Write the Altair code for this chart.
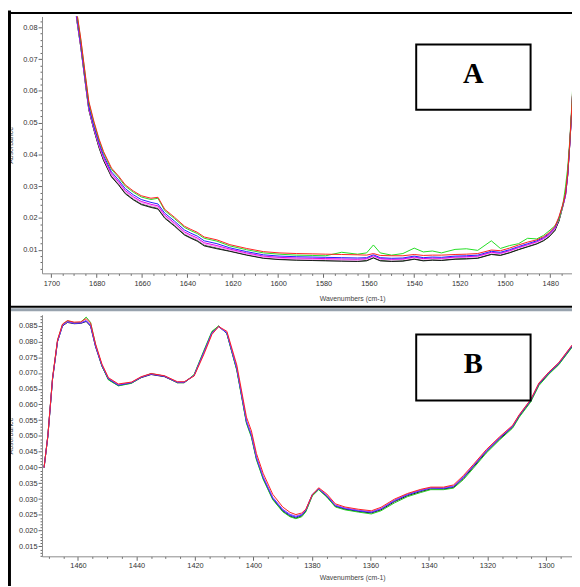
import altair as alt
import pandas as pd

# ---------------- Panel A (1704 - 1470 cm-1) ----------------
A_WN = [1690, 1688.7, 1687, 1684.8, 1683.5, 1681.3, 1679, 1677, 1673.5, 1670.4,
        1667.4, 1663.9, 1660.4, 1656.1, 1653, 1650, 1645.7, 1641.3, 1638.5, 1635.7,
        1632.6, 1627, 1621.3, 1613.9, 1606.5, 1599.6, 1592, 1585, 1579, 1572,
        1565, 1561, 1558, 1555, 1550, 1545, 1540, 1536, 1532, 1528,
        1522, 1517, 1512, 1506, 1502, 1498, 1494, 1490, 1486, 1483,
        1480.6, 1478, 1476.2, 1474.5, 1473.3, 1472.3, 1471.4, 1470.4, 1469.5]

A_RED = [0.0915, 0.0845, 0.0762, 0.0638, 0.0567, 0.0505, 0.0449, 0.0409, 0.0357, 0.0332,
         0.0304, 0.0285, 0.0270, 0.0262, 0.0265, 0.0227, 0.0202, 0.0174, 0.0164, 0.0155,
         0.0140, 0.0131, 0.0116, 0.0104, 0.0094, 0.0090, 0.0088, 0.0087, 0.0086, 0.0085,
         0.0084, 0.0083, 0.0088, 0.0082, 0.0081, 0.0081, 0.0085, 0.0082, 0.0083, 0.0083,
         0.0085, 0.0086, 0.0088, 0.0099, 0.0097, 0.0105, 0.0115, 0.0124, 0.0131, 0.0141,
         0.0153, 0.0173, 0.0203, 0.0243, 0.0278, 0.0343, 0.0440, 0.0563, 0.0703]

A_LIME = [0.0911, 0.0841, 0.0758, 0.0634, 0.0563, 0.0501, 0.0445, 0.0405, 0.0353, 0.0328,
          0.0300, 0.0281, 0.0266, 0.0258, 0.0262, 0.0223, 0.0198, 0.0170, 0.0160, 0.0151,
          0.0136, 0.0127, 0.0112, 0.0100, 0.0090, 0.0086, 0.0083, 0.0082, 0.0081, 0.0092,
          0.0086, 0.0090, 0.0115, 0.0090, 0.0083, 0.0088, 0.0105, 0.0093, 0.0096, 0.0090,
          0.0101, 0.0103, 0.0098, 0.0128, 0.0104, 0.0113, 0.0119, 0.0136, 0.0134, 0.0145,
          0.0159, 0.0175, 0.0195, 0.0240, 0.0298, 0.0360, 0.0445, 0.0570, 0.0710]

A_BLUE = [0.0900, 0.0830, 0.0747, 0.0623, 0.0552, 0.0490, 0.0437, 0.0397, 0.0345, 0.0320,
          0.0292, 0.0273, 0.0258, 0.0249, 0.0244, 0.0215, 0.0190, 0.0162, 0.0152, 0.0143,
          0.0128, 0.0119, 0.0106, 0.0094, 0.0084, 0.0080, 0.0078, 0.0077, 0.0076, 0.0075,
          0.0074, 0.0075, 0.0084, 0.0075, 0.0073, 0.0074, 0.0080, 0.0075, 0.0077, 0.0076,
          0.0080, 0.0081, 0.0083, 0.0095, 0.0092, 0.0100, 0.0110, 0.0119, 0.0128, 0.0138,
          0.0150, 0.0170, 0.0200, 0.0240, 0.0275, 0.0340, 0.0437, 0.0560, 0.0700]

A_MAGENTA = [0.0895, 0.0825, 0.0742, 0.0618, 0.0547, 0.0485, 0.0431, 0.0391, 0.0339, 0.0314,
             0.0286, 0.0267, 0.0252, 0.0243, 0.0238, 0.0209, 0.0184, 0.0156, 0.0146, 0.0137,
             0.0122, 0.0113, 0.0102, 0.0090, 0.0080, 0.0076, 0.0074, 0.0073, 0.0072, 0.0071,
             0.0070, 0.0072, 0.0081, 0.0072, 0.0070, 0.0071, 0.0077, 0.0072, 0.0074, 0.0073,
             0.0077, 0.0078, 0.0080, 0.0092, 0.0089, 0.0097, 0.0107, 0.0116, 0.0125, 0.0135,
             0.0147, 0.0167, 0.0197, 0.0237, 0.0272, 0.0337, 0.0434, 0.0557, 0.0697]

A_PINK = [0.0892, 0.0822, 0.0739, 0.0615, 0.0544, 0.0482, 0.0427, 0.0387, 0.0335, 0.0310,
          0.0282, 0.0263, 0.0248, 0.0239, 0.0234, 0.0205, 0.0180, 0.0152, 0.0142, 0.0133,
          0.0118, 0.0109, 0.0099, 0.0087, 0.0077, 0.0073, 0.0071, 0.0070, 0.0069, 0.0068,
          0.0067, 0.0070, 0.0079, 0.0070, 0.0068, 0.0069, 0.0075, 0.0070, 0.0072, 0.0071,
          0.0075, 0.0076, 0.0078, 0.0090, 0.0087, 0.0095, 0.0105, 0.0114, 0.0123, 0.0133,
          0.0145, 0.0165, 0.0195, 0.0235, 0.0270, 0.0335, 0.0432, 0.0555, 0.0695]

A_BLACK = [0.0888, 0.0818, 0.0735, 0.0611, 0.0540, 0.0478, 0.0421, 0.0381, 0.0329, 0.0304,
           0.0276, 0.0257, 0.0242, 0.0233, 0.0228, 0.0199, 0.0174, 0.0146, 0.0136, 0.0127,
           0.0112, 0.0103, 0.0095, 0.0083, 0.0073, 0.0069, 0.0067, 0.0066, 0.0065, 0.0064,
           0.0063, 0.0065, 0.0074, 0.0065, 0.0063, 0.0064, 0.0070, 0.0065, 0.0067, 0.0066,
           0.0070, 0.0071, 0.0073, 0.0085, 0.0082, 0.0090, 0.0100, 0.0109, 0.0118, 0.0128,
           0.0140, 0.0160, 0.0190, 0.0235, 0.0270, 0.0335, 0.0432, 0.0555, 0.0695]

A_DKGREEN = [0.0890, 0.0820, 0.0737, 0.0613, 0.0542, 0.0480, 0.0423, 0.0383, 0.0331, 0.0306,
             0.0278, 0.0259, 0.0244, 0.0235, 0.0230, 0.0201, 0.0176, 0.0148, 0.0138, 0.0129,
             0.0114, 0.0105, 0.0096, 0.0084, 0.0074, 0.0070, 0.0068, 0.0067, 0.0066, 0.0065,
             0.0064, 0.0066, 0.0075, 0.0066, 0.0064, 0.0065, 0.0071, 0.0066, 0.0068, 0.0067,
             0.0071, 0.0072, 0.0074, 0.0086, 0.0083, 0.0091, 0.0101, 0.0110, 0.0119, 0.0129,
             0.0141, 0.0161, 0.0191, 0.0236, 0.0271, 0.0336, 0.0433, 0.0556, 0.0696]

A_SERIES = [("dkgreen", "#2f6a2f", A_DKGREEN), ("black", "#1a1a1a", A_BLACK),
            ("pink", "#ff85ff", A_PINK), ("magenta", "#e000e0", A_MAGENTA),
            ("blue", "#1f1fff", A_BLUE), ("lime", "#22dd22", A_LIME),
            ("red", "#ff2020", A_RED)]

# ---------------- Panel B (1472 - 1291 cm-1) ----------------
B_WN = [1471.6, 1470.3, 1468.7, 1467, 1465.3, 1463.6, 1461.3, 1459.1, 1457.2, 1455.7,
        1454, 1451.8, 1449.6, 1446.2, 1441.7, 1438.4, 1435, 1430.4, 1426, 1423.7,
        1420.3, 1417, 1414.2, 1411.9, 1409.1, 1405.7, 1402.4, 1400.7, 1399, 1396.7,
        1393.4, 1390, 1387.5, 1385.5, 1383.5, 1382.1, 1379.9, 1377.7, 1374.9, 1372,
        1368.7, 1364.2, 1359.7, 1356.4, 1351.8, 1347.3, 1342.8, 1339.4, 1335, 1331.6,
        1328.2, 1324.8, 1320.4, 1315.8, 1311.4, 1309.1, 1305.2, 1302.4, 1299, 1295.6,
        1291.1, 1289]

B_BLUE = [0.0400, 0.0500, 0.0681, 0.0800, 0.0850, 0.0862, 0.0857, 0.0858, 0.0865, 0.0850,
          0.0785, 0.0723, 0.0681, 0.0661, 0.0669, 0.0686, 0.0696, 0.0689, 0.0670, 0.0670,
          0.0692, 0.0765, 0.0827, 0.0847, 0.0826, 0.0713, 0.0546, 0.0502, 0.0431, 0.0369,
          0.0303, 0.0265, 0.0249, 0.0243, 0.0250, 0.0265, 0.0315, 0.0333, 0.0310, 0.0279,
          0.0270, 0.0263, 0.0258, 0.0269, 0.0295, 0.0314, 0.0327, 0.0335, 0.0334, 0.0340,
          0.0369, 0.0405, 0.0452, 0.0494, 0.0530, 0.0565, 0.0613, 0.0665, 0.0700, 0.0730,
          0.0785, 0.0810]

B_RED = [0.0400, 0.0502, 0.0685, 0.0805, 0.0855, 0.0866, 0.0861, 0.0862, 0.0872, 0.0858,
         0.0792, 0.0728, 0.0685, 0.0665, 0.0671, 0.0688, 0.0698, 0.0691, 0.0672, 0.0672,
         0.0690, 0.0758, 0.0822, 0.0847, 0.0832, 0.0725, 0.0560, 0.0516, 0.0445, 0.0382,
         0.0315, 0.0275, 0.0258, 0.0251, 0.0256, 0.0268, 0.0314, 0.0336, 0.0316, 0.0285,
         0.0275, 0.0268, 0.0263, 0.0274, 0.0300, 0.0318, 0.0331, 0.0338, 0.0338, 0.0345,
         0.0375, 0.0410, 0.0457, 0.0498, 0.0534, 0.0568, 0.0616, 0.0668, 0.0703, 0.0733,
         0.0788, 0.0813]

B_GREEN = [0.0400, 0.0500, 0.0683, 0.0803, 0.0853, 0.0865, 0.0859, 0.0860, 0.0877, 0.0860,
           0.0790, 0.0722, 0.0678, 0.0659, 0.0667, 0.0686, 0.0698, 0.0690, 0.0669, 0.0669,
           0.0695, 0.0770, 0.0832, 0.0849, 0.0824, 0.0708, 0.0540, 0.0496, 0.0425, 0.0363,
           0.0298, 0.0260, 0.0244, 0.0238, 0.0244, 0.0260, 0.0310, 0.0330, 0.0306, 0.0275,
           0.0266, 0.0259, 0.0253, 0.0263, 0.0288, 0.0308, 0.0321, 0.0330, 0.0330, 0.0335,
           0.0362, 0.0398, 0.0446, 0.0488, 0.0525, 0.0560, 0.0608, 0.0660, 0.0696, 0.0726,
           0.0781, 0.0806]

B_PURPLE = [0.0400, 0.0500, 0.0682, 0.0801, 0.0851, 0.0862, 0.0858, 0.0859, 0.0866, 0.0852,
            0.0787, 0.0725, 0.0683, 0.0663, 0.0670, 0.0687, 0.0697, 0.0690, 0.0671, 0.0671,
            0.0692, 0.0763, 0.0826, 0.0847, 0.0828, 0.0716, 0.0549, 0.0505, 0.0434, 0.0372,
            0.0306, 0.0268, 0.0252, 0.0246, 0.0252, 0.0266, 0.0314, 0.0333, 0.0312, 0.0281,
            0.0272, 0.0265, 0.0260, 0.0270, 0.0297, 0.0316, 0.0329, 0.0336, 0.0336, 0.0342,
            0.0371, 0.0407, 0.0454, 0.0496, 0.0532, 0.0567, 0.0615, 0.0667, 0.0702, 0.0732,
            0.0787, 0.0812]

B_BLACK = [0.0400, 0.0500, 0.0680, 0.0799, 0.0849, 0.0860, 0.0856, 0.0857, 0.0863, 0.0848,
           0.0783, 0.0721, 0.0679, 0.0660, 0.0668, 0.0685, 0.0695, 0.0688, 0.0669, 0.0669,
           0.0693, 0.0767, 0.0829, 0.0848, 0.0825, 0.0710, 0.0543, 0.0499, 0.0428, 0.0366,
           0.0300, 0.0262, 0.0246, 0.0240, 0.0247, 0.0262, 0.0312, 0.0331, 0.0308, 0.0277,
           0.0268, 0.0261, 0.0256, 0.0266, 0.0292, 0.0311, 0.0324, 0.0332, 0.0332, 0.0337,
           0.0366, 0.0402, 0.0449, 0.0491, 0.0528, 0.0563, 0.0611, 0.0663, 0.0698, 0.0728,
           0.0783, 0.0808]

B_SERIES = [("black", "#1a1a1a", B_BLACK), ("green", "#22cc22", B_GREEN),
            ("blue", "#1f1fff", B_BLUE), ("purple", "#9040ff", B_PURPLE),
            ("red", "#ff2020", B_RED)]

# tick positions
A_XTICKS = list(range(1475, 1705, 5))
A_YTICKS = [round(0.004 + 0.002 * i, 3) for i in range(40)]
B_XTICKS = list(range(1295, 1475, 5))
B_YTICKS = [round(0.012 + 0.001 * i, 3) for i in range(77)]

X_TITLE = "Wavenumbers (cm-1)"
Y_TITLE = "Absorbance"
PANEL_LABELS = ["A", "B"]


def long_df(wn, series):
    rows = []
    for name, col, vals in series:
        for w, v in zip(wn, vals):
            rows.append({"wn": w, "val": v, "s": name, "col": col})
    return pd.DataFrame(rows)


dfA = long_df(A_WN, A_SERIES)
dfB = long_df(B_WN, B_SERIES)

LAB_FONT = "Liberation Sans"
common = dict(labelFont=LAB_FONT, labelFontSize=7.5, labelColor="#333333",
              tickColor="#666666", domainColor="#8a8a8a", tickWidth=1, domainWidth=1,
              labelOverlap=False, labelFlush=False, grid=False,
              titleFont=LAB_FONT, titleFontSize=7, titleFontWeight="normal",
              titleColor="#444444")

x_major = "datum.value % 20 == 0"
axA_x = alt.Axis(values=A_XTICKS, orient="bottom", offset=-287, title=X_TITLE,
                 labelExpr=f"{x_major} ? format(datum.value, 'd') : ''",
                 tickSize={"condition": {"test": x_major, "value": 4}, "value": 2},
                 labelPadding=2, titleX=314.5, titleY=25.5, titleBaseline="middle",
                 **common)
yA_major = "abs(datum.value * 100 - round(datum.value * 100)) < 0.01"
axA_y = alt.Axis(values=A_YTICKS, orient="left", title=Y_TITLE,
                 labelExpr=f"{yA_major} ? format(datum.value, '.2f') : ''",
                 tickSize={"condition": {"test": yA_major, "value": 4}, "value": 2},
                 labelPadding=1, titleX=-28.5, titleY=130.25, titleBaseline="bottom",
                 **common)
axB_x = alt.Axis(values=B_XTICKS, orient="bottom", title=X_TITLE,
                 labelExpr=f"{x_major} ? format(datum.value, 'd') : ''",
                 tickSize={"condition": {"test": x_major, "value": 4}, "value": 2},
                 labelPadding=1, titleX=314.5, titleY=21.5, titleBaseline="middle",
                 **common)
yB_major = "abs(datum.value * 200 - round(datum.value * 200)) < 0.01"
axB_y = alt.Axis(values=B_YTICKS, orient="left", title=Y_TITLE,
                 labelExpr=f"{yB_major} ? format(datum.value, '.3f') : ''",
                 tickSize={"condition": {"test": yB_major, "value": 4}, "value": 2},
                 labelPadding=1, titleX=-28.5, titleY=425, titleBaseline="bottom",
                 **common)

lineA = alt.Chart(dfA).mark_line(strokeWidth=1, clip=True).encode(
    x=alt.X("wn:Q", scale=alt.Scale(domain=[1470.43, 1704.13], reverse=True, nice=False, zero=False), axis=axA_x),
    y=alt.Y("val:Q", scale=alt.Scale(domain=[0.00257, 0.0834], range=[260.5, 0], nice=False, zero=False), axis=axA_y),
    color=alt.Color("col:N", scale=None),
    detail="s:N",
)

lineB = alt.Chart(dfB).mark_line(strokeWidth=1, clip=True).encode(
    x=alt.X("wn:Q", scale=alt.Scale(domain=[1291.1, 1472.3], reverse=True, nice=False, zero=False), axis=axB_x),
    y=alt.Y("val:Q", scale=alt.Scale(domain=[0.01187, 0.08844], range=[547.5, 302.5], nice=False, zero=False), axis=axB_y),
    color=alt.Color("col:N", scale=None),
    detail="s:N",
)

one = pd.DataFrame({"k": [0]})
frame_left = alt.Chart(one).mark_rule(color="black", strokeWidth=3).encode(
    x=alt.value(-33), y=alt.value(-6), y2=alt.value(600))
frame_top = alt.Chart(one).mark_rule(color="black", strokeWidth=2).encode(
    x=alt.value(-35), x2=alt.value(540), y=alt.value(-3.5))
sep_black = alt.Chart(one).mark_rule(color="black", strokeWidth=2).encode(
    x=alt.value(-35), x2=alt.value(540), y=alt.value(294.5))
sep_gray = alt.Chart(one).mark_rule(color="#98a3ae", strokeWidth=3).encode(
    x=alt.value(-31.5), x2=alt.value(540), y=alt.value(297.5))

boxA = alt.Chart(one).mark_rect(fill="white", stroke="black", strokeWidth=2).encode(
    x=alt.value(379.5), x2=alt.value(495.5), y=alt.value(28.5), y2=alt.value(94.5))
boxB = alt.Chart(one).mark_rect(fill="white", stroke="black", strokeWidth=2).encode(
    x=alt.value(379.5), x2=alt.value(495.5), y=alt.value(322.5), y2=alt.value(389.5))
txtA = alt.Chart(one).mark_text(text=PANEL_LABELS[0], font="Liberation Serif", fontWeight="bold",
                                fontSize=29, align="center", baseline="alphabetic",
                                color="black").encode(x=alt.value(437.5), y=alt.value(67.5))
txtB = alt.Chart(one).mark_text(text=PANEL_LABELS[1], font="Liberation Serif", fontWeight="bold",
                                fontSize=29, align="center", baseline="alphabetic",
                                color="black").encode(x=alt.value(437.5), y=alt.value(361.5))

chart = alt.layer(
    lineA, lineB, sep_black, sep_gray, frame_top, frame_left, boxA, boxB, txtA, txtB
).resolve_scale(
    x="independent", y="independent"
).resolve_axis(
    x="independent", y="independent"
).properties(
    width=537.5, height=547.5,
    autosize=alt.AutoSizeParams(type="none"),
    padding={"left": 34.5, "top": 4.5, "right": 0, "bottom": 26},
    background="white",
).configure_view(strokeWidth=0)

chart.save("out.html", embed_options={"renderer": "svg", "actions": False})
